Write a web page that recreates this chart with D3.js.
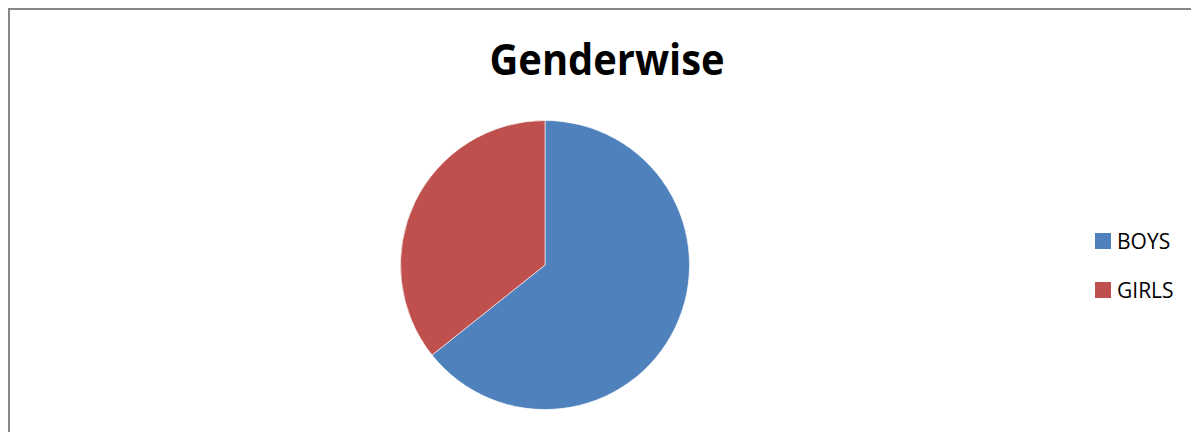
<!DOCTYPE html>
<html>
<head>
<meta charset="utf-8">
<script src="https://cdn.jsdelivr.net/npm/d3@7"></script>
<style>
  html, body { margin: 0; padding: 0; background: #fff; overflow: hidden; }
  svg { display: block; }
</style>
</head>
<body>
<svg id="chart" width="1191" height="432"></svg>
<script>
const categories = ["BOYS", "GIRLS"];
const counts = [180, 100];
const colors = ["#4F81BD", "#C0504D"];
const title = "Genderwise";

const svg = d3.select("#chart");

// chart frame, runs off the right and bottom of the picture
svg.append("rect")
  .attr("x", 9).attr("y", 9)
  .attr("width", 1300).attr("height", 600)
  .attr("fill", "none")
  .attr("stroke", "#878787")
  .attr("stroke-width", 2);

svg.append("text")
  .attr("x", 607).attr("y", 75)
  .attr("text-anchor", "middle")
  .attr("font-family", "'Open Sans', sans-serif")
  .attr("font-weight", "bold")
  .attr("font-size", 43)
  .attr("textLength", 235)
  .attr("lengthAdjust", "spacingAndGlyphs")
  .attr("fill", "#000")
  .text(title);

const data = categories.map((c, i) => ({ name: c, value: counts[i], color: colors[i] }));

const pie = d3.pie().value(d => d.value).sort(null);
const arc = d3.arc().innerRadius(0).outerRadius(144.5);

svg.append("g")
  .attr("transform", "translate(545,265)")
  .selectAll("path")
  .data(pie(data))
  .join("path")
  .attr("d", arc)
  .attr("fill", d => d.data.color)
  .attr("stroke", "#fff")
  .attr("stroke-width", 0.6);

const legend = svg.append("g").attr("transform", "translate(1095,233)");
const item = legend.selectAll("g")
  .data(data)
  .join("g")
  .attr("transform", (d, i) => `translate(0,${i * 49})`);

item.append("rect")
  .attr("width", 16).attr("height", 16)
  .attr("fill", d => d.color);

item.append("text")
  .attr("x", 22).attr("y", 15.5)
  .attr("font-family", "'Open Sans', sans-serif")
  .attr("font-size", 21)
  .attr("fill", "#000")
  .text(d => d.name);
</script>
</body>
</html>
